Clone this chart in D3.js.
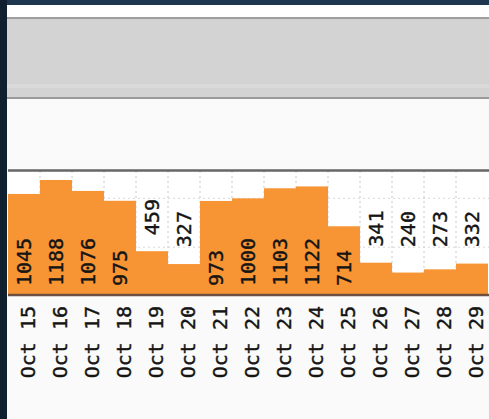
<!DOCTYPE html>
<html>
<head>
<meta charset="utf-8">
<script src="https://cdn.jsdelivr.net/npm/d3@7"></script>
<style>
  html, body { margin: 0; padding: 0; background: #fafafa; }
  svg { display: block; }
</style>
</head>
<body>
<svg id="chart" width="489" height="419"></svg>
<script>
const categories = ["Oct 15","Oct 16","Oct 17","Oct 18","Oct 19","Oct 20","Oct 21","Oct 22","Oct 23","Oct 24","Oct 25","Oct 26","Oct 27","Oct 28","Oct 29"];
const values = [1045, 1188, 1076, 975, 459, 327, 973, 1000, 1103, 1122, 714, 341, 240, 273, 332];
const gridValues = [500, 1000];

(function () {
const W = 489, H = 419;
const svg = d3.select("#chart");

// page background pieces
svg.append("rect").attr("x", 0).attr("y", 0).attr("width", W).attr("height", H).attr("fill", "#fafafa");
svg.append("rect").attr("x", 7).attr("y", 5).attr("width", W - 7).attr("height", 12).attr("fill", "#ffffff");
// gray header band
svg.append("rect").attr("x", 7).attr("y", 17).attr("width", W - 7).attr("height", 82).attr("fill", "#d3d3d3");
svg.append("rect").attr("x", 7).attr("y", 84).attr("width", W - 7).attr("height", 4).attr("fill", "#dadada");
svg.append("rect").attr("x", 7).attr("y", 17).attr("width", W - 7).attr("height", 2).attr("fill", "#9e9e9e");
svg.append("rect").attr("x", 7).attr("y", 97).attr("width", W - 7).attr("height", 2).attr("fill", "#9a9a9a");
// navy frame
svg.append("rect").attr("x", 0).attr("y", 0).attr("width", W).attr("height", 5).attr("fill", "#1f3650");
svg.append("rect").attr("x", 0).attr("y", 0).attr("width", 7).attr("height", H).attr("fill", "#10202f");

const pLeft = 8, pRight = 488, pTop = 171, pBottom = 296;

const x = d3.scaleBand().domain(categories).range([pLeft, pRight]).padding(0);
const y = d3.scaleLinear().domain([0, 1280]).range([pBottom, pTop]);

// plot background
svg.append("rect").attr("x", pLeft).attr("y", pTop).attr("width", W - pLeft).attr("height", pBottom - pTop).attr("fill", "#ffffff");

// grid
const grid = svg.append("g");
grid.selectAll("line.v").data(categories.slice(1)).join("line")
  .attr("class", "v")
  .attr("x1", d => x(d)).attr("x2", d => x(d))
  .attr("y1", pTop).attr("y2", pBottom)
  .attr("stroke", "#c8c8c8").attr("stroke-width", 1).attr("stroke-dasharray", "2,3");
grid.selectAll("line.h").data(gridValues).join("line")
  .attr("class", "h")
  .attr("x1", pLeft).attr("x2", W)
  .attr("y1", d => y(d)).attr("y2", d => y(d))
  .attr("stroke", "#d8d8d8").attr("stroke-width", 1).attr("stroke-dasharray", "2,3");

// bars
svg.append("g").selectAll("rect").data(values).join("rect")
  .attr("x", (d, i) => x(categories[i]))
  .attr("y", d => y(d))
  .attr("width", x.bandwidth())
  .attr("height", d => pBottom - y(d))
  .attr("fill", "#f79434");

// frame lines
svg.append("line").attr("x1", pLeft).attr("x2", W).attr("y1", 170.5).attr("y2", 170.5)
  .attr("stroke", "#666").attr("stroke-width", 2.5);
svg.append("line").attr("x1", pLeft).attr("x2", W).attr("y1", 295).attr("y2", 295)
  .attr("stroke", "#6e5140").attr("stroke-width", 2.5);

// value labels
const fontFamily = "'DejaVu Sans Mono', monospace";
svg.append("g").selectAll("text").data(values).join("text")
  .attr("transform", (d, i) => {
    const cx = x(categories[i]) + x.bandwidth() / 2;
    const inside = (pBottom - y(d)) > 60;
    const yy = inside ? pBottom - 10 : Math.min(y(d) - 16, y(500));
    return `translate(${cx},${yy}) rotate(-90)`;
  })
  .attr("dy", "0.35em")
  .attr("text-anchor", "start")
  .attr("font-family", fontFamily)
  .attr("font-size", 20)
  .attr("fill", "#151515")
  .attr("stroke", "#151515").attr("stroke-width", 0.4)
  .text(d => d);

// x axis
const xAxis = d3.axisBottom(x).tickSize(0).tickPadding(0);
const gx = svg.append("g").attr("transform", `translate(0,${pBottom})`).call(xAxis);
gx.select(".domain").remove();
gx.selectAll("text")
  .attr("font-family", fontFamily)
  .attr("font-size", 20)
  .attr("fill", "#151515")
  .attr("stroke", "#151515").attr("stroke-width", 0.4)
  .attr("text-anchor", "end")
  .attr("transform", "translate(4,10) rotate(-90)")
  .attr("x", 0).attr("y", 0)
  .attr("dy", "0.35em");
})();
</script>
</body>
</html>
